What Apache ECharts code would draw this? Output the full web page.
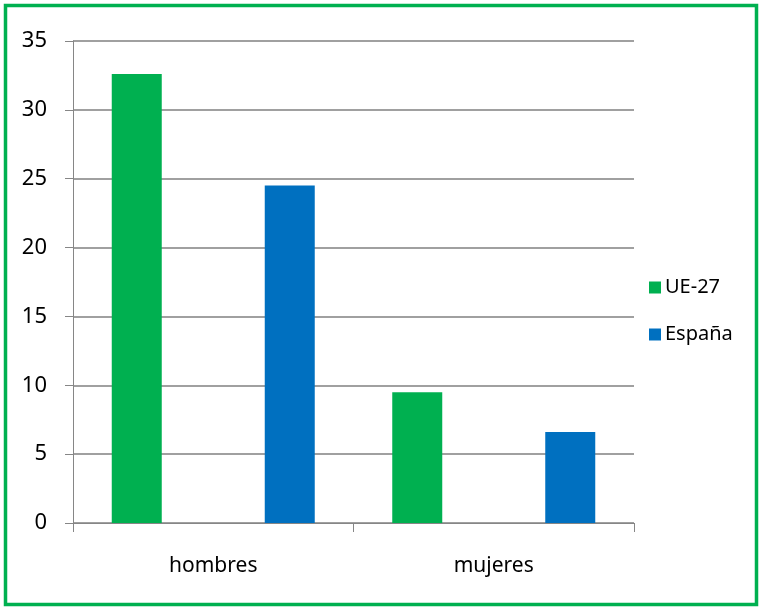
<!DOCTYPE html>
<html>
<head>
<meta charset="utf-8">
<script src="https://cdn.jsdelivr.net/npm/echarts@6/dist/echarts.min.js"></script>
<style>
html,body{margin:0;padding:0;background:#fff;}
#chart{width:762px;height:610px;}
</style>
</head>
<body>
<div id="chart"></div>
<script>
// Categories and series values
const categories = ['hombres', 'mujeres'];
const ue27 = [32.6, 9.5];
const espana = [24.5, 6.6];
const seriesNames = ['UE-27', 'España'];

const FONT = '"Noto Sans", "Open Sans", sans-serif';
const chart = echarts.init(document.getElementById('chart'));

chart.setOption({
  animation: false,
  backgroundColor: '#ffffff',
  graphic: [{
    type: 'rect',
    shape: { x: 5.5, y: 5.5, width: 751, height: 599 },
    style: { fill: 'none', stroke: '#00B050', lineWidth: 3.5 },
    silent: true
  }],
  grid: { left: 73, right: 128, top: 41, bottom: 87 },
  legend: {
    orient: 'vertical',
    left: 644,
    top: 272,
    icon: 'rect',
    itemWidth: 12,
    itemHeight: 12,
    itemGap: 26,
    textStyle: { fontFamily: FONT, fontSize: 20, color: '#000', lineHeight: 21, padding: [0, 0, 0, -1] },
    data: seriesNames
  },
  xAxis: {
    type: 'category',
    data: categories,
    axisLine: { lineStyle: { color: '#868686', width: 1 } },
    axisTick: { show: true, length: 9, lineStyle: { color: '#868686' } },
    axisLabel: { fontFamily: FONT, fontSize: 21, color: '#000', margin: 33 }
  },
  yAxis: {
    type: 'value',
    min: 0,
    max: 35,
    interval: 5,
    axisLine: { show: true, lineStyle: { color: '#868686', width: 1 } },
    axisTick: { show: true, length: 8, lineStyle: { color: '#868686' } },
    splitLine: { lineStyle: { color: '#808080', width: 1.5 } },
    axisLabel: { fontFamily: FONT, fontSize: 22, color: '#000', margin: 26 }
  },
  series: [
    {
      name: seriesNames[0],
      type: 'bar',
      data: ue27,
      barWidth: 50,
      barGap: '206%',
      itemStyle: { color: '#00B050' }
    },
    {
      name: seriesNames[1],
      type: 'bar',
      data: espana,
      barWidth: 50,
      itemStyle: { color: '#0070C0' }
    }
  ]
});
</script>
</body>
</html>
